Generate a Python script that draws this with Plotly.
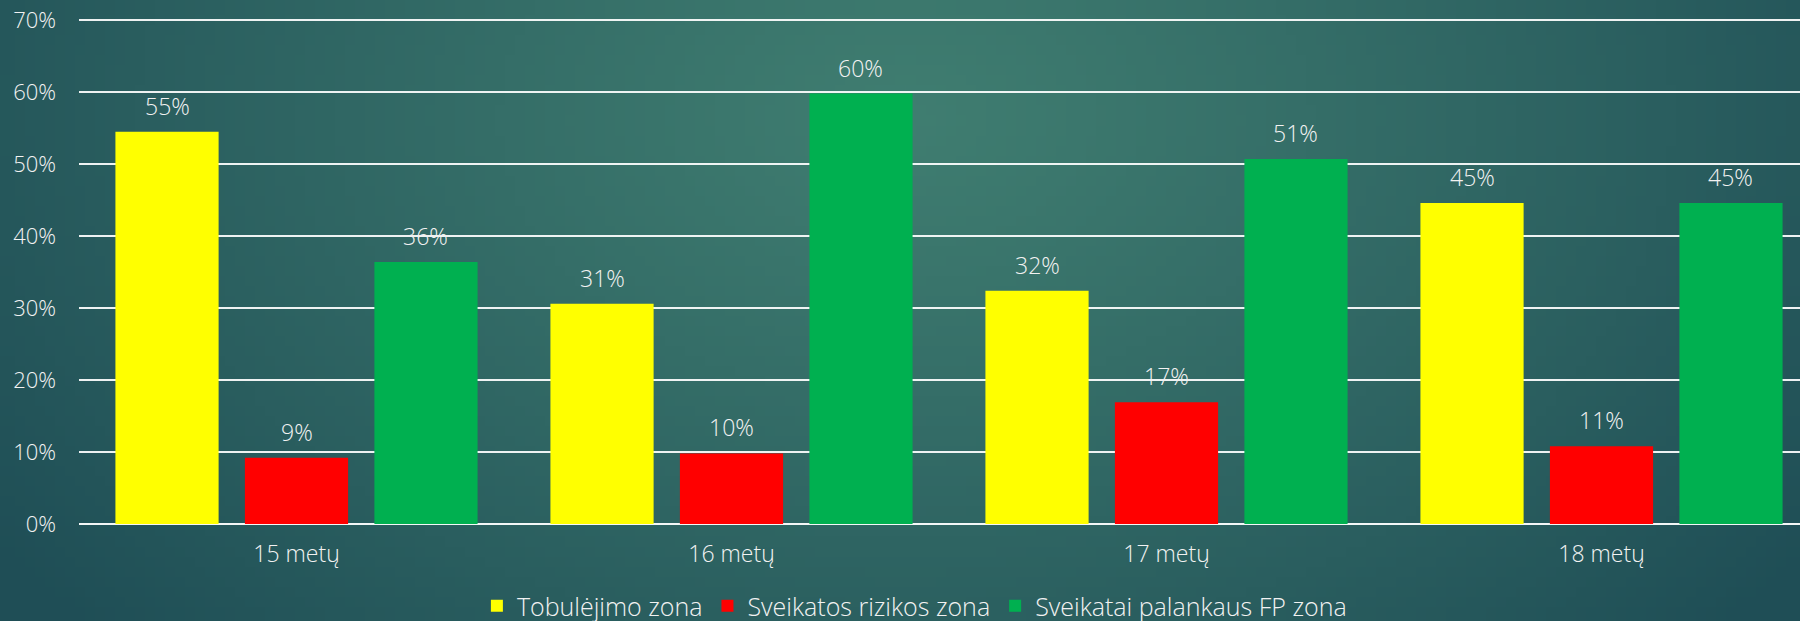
import base64, struct, zlib
import numpy as np
import plotly.graph_objects as go

categories = ["15 metų", "16 metų", "17 metų", "18 metų"]
series_names = ["Tobulėjimo zona", "Sveikatos rizikos zona", "Sveikatai palankaus FP zona"]
tobulejimo = [54.5, 30.6, 32.4, 44.6]
rizikos = [9.2, 9.8, 16.9, 10.8]
palankaus = [36.4, 59.8, 50.7, 44.6]
labels_tob = ["55%", "31%", "32%", "45%"]
labels_riz = ["9%", "10%", "17%", "11%"]
labels_pal = ["36%", "60%", "51%", "45%"]
tick_vals = [0, 10, 20, 30, 40, 50, 60, 70]
tick_text = ["0%", "10%", "20%", "30%", "40%", "50%", "60%", "70%"]

colors = ["#FFFF00", "#FF0000", "#00B050"]
W, H = 1800, 621
ML, MR, MT, MB = 79, 0, 18, 97
YMAX = 70.3

def make_bg(w=180, h=62):
    yy, xx = np.mgrid[0:h, 0:w].astype(float)
    cx, cy = 0.50 * w, 0.18 * h
    d = np.sqrt(((xx - cx) / (0.62 * w)) ** 2 + ((yy - cy) / (1.25 * h)) ** 2)
    d = np.clip(d, 0, 1)
    c0 = np.array([0x40, 0x7E, 0x71], float)
    c1 = np.array([0x1F, 0x4E, 0x56], float)
    t = d[..., None] ** 1.1
    img = (c0 * (1 - t) + c1 * t).astype(np.uint8)
    raw = b"".join(b"\x00" + img[r].tobytes() for r in range(h))
    def chunk(tag, data):
        return struct.pack(">I", len(data)) + tag + data + struct.pack(">I", zlib.crc32(tag + data) & 0xFFFFFFFF)
    png = b"\x89PNG\r\n\x1a\n" + chunk(b"IHDR", struct.pack(">IIBBBBB", w, h, 8, 2, 0, 0, 0)) \
        + chunk(b"IDAT", zlib.compress(raw, 9)) + chunk(b"IEND", b"")
    return "data:image/png;base64," + base64.b64encode(png).decode()

FONT = "Open Sans"
TXT = "#F2F2F2"
fig = go.Figure()
all_vals = [tobulejimo, rizikos, palankaus]
all_labels = [labels_tob, labels_riz, labels_pal]
for name, vals, col in zip(series_names, all_vals, colors):
    fig.add_trace(go.Bar(x=categories, y=vals, name=name, marker=dict(color=col, line=dict(width=0))))

pw = W - ML - MR
ph = H - MT - MB
cat_px = 435.0
span = pw / cat_px
slot = cat_px * (1 - 0.107) / 3
for i, (vals, labs) in enumerate(zip(all_vals, all_labels)):
    for c, v, t in zip(categories, vals, labs):
        fig.add_annotation(x=c, y=v, text=t, showarrow=False, xanchor="center", yanchor="bottom",
                           xshift=(i - 1) * slot, yshift=8,
                           font=dict(family=FONT, size=23, color=TXT, weight=300))

fig.add_layout_image(dict(source=make_bg(), xref="paper", yref="paper",
                          x=-ML / pw, y=1 + MT / ph, sizex=W / pw, sizey=H / ph,
                          xanchor="left", yanchor="top", sizing="stretch", layer="below"))

fig.update_layout(
    width=W, height=H,
    margin=dict(l=ML, r=MR, t=MT, b=MB, autoexpand=False),
    paper_bgcolor="#24585b", plot_bgcolor="rgba(0,0,0,0)",
    barmode="group", bargap=0.107, bargroupgap=0.203,
    font=dict(family=FONT, size=23, color=TXT, weight=300),
    showlegend=True,
    legend=dict(orientation="h", xref="container", yref="container",
                x=0.508, xanchor="center", y=(H - 606) / H, yanchor="middle",
                font=dict(family=FONT, size=25, color=TXT, weight=300), bgcolor="rgba(0,0,0,0)",
                itemwidth=30, traceorder="normal"),
    xaxis=dict(range=[-0.5, -0.5 + span], showgrid=False, showline=False, zeroline=False,
               ticks="", tickfont=dict(size=23), ticklabelstandoff=14, fixedrange=True),
    yaxis=dict(range=[0, YMAX], tickvals=tick_vals, ticktext=tick_text, showgrid=True,
               gridcolor="rgba(255,255,255,0.92)", gridwidth=2, zeroline=True,
               zerolinecolor="rgba(255,255,255,0.95)", zerolinewidth=2, showline=False,
               ticks="", tickfont=dict(size=22), ticklabelstandoff=22, fixedrange=True),
)
fig.write_html("out.html", config={"displayModeBar": False},
               post_script="document.body.style.margin='0';document.body.style.overflow='hidden';")
